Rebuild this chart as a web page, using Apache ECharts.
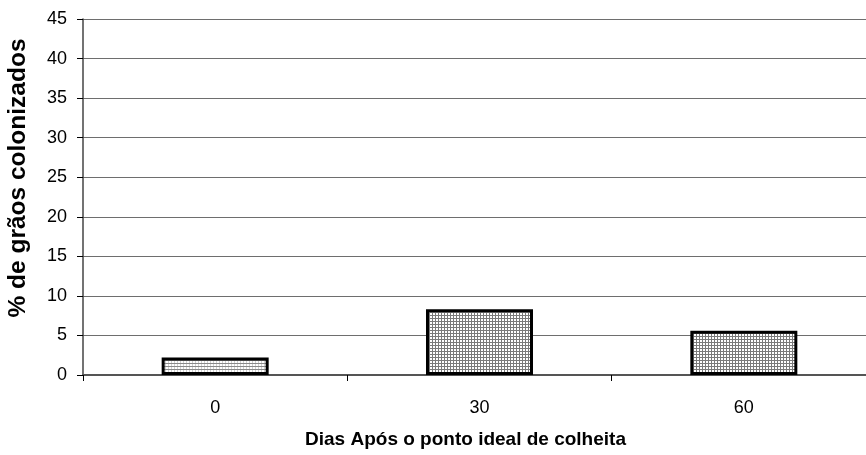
<!DOCTYPE html>
<html>
<head>
<meta charset="utf-8">
<script src="https://cdn.jsdelivr.net/npm/echarts@6/dist/echarts.min.js"></script>
<style>
  html, body { margin: 0; padding: 0; background: #fff; }
  #main { width: 866px; height: 455px; }
</style>
</head>
<body>
<div id="main"></div>
<script>
var categories = ['0', '30', '60'];
var values = [2.2, 8.3, 5.6];
var yTicks = { min: 0, max: 45, step: 5 };

// hatch fills like the old excel patterns
function makePattern(hColor, vColor) {
    var c = document.createElement('canvas');
    c.width = 3;
    c.height = 3;
    var ctx = c.getContext('2d');
    ctx.fillStyle = '#ffffff';
    ctx.fillRect(0, 0, 3, 3);
    ctx.fillStyle = vColor;
    ctx.fillRect(0, 0, 1, 3);
    ctx.fillStyle = hColor;
    ctx.fillRect(0, 0, 3, 1);
    return { image: c, repeat: 'repeat' };
}
var lightFill = makePattern('#8a8a8a', '#d0d0d0');
var gridFill = makePattern('#7a7a7a', '#7a7a7a');

var myChart = echarts.init(document.getElementById('main'));
var option = {
    backgroundColor: '#ffffff',
    animation: false,
    textStyle: { fontFamily: 'Liberation Sans, Arial, sans-serif' },
    grid: {
        left: 83,
        top: 19,
        right: -10, // plot runs past the right edge of the picture
        bottom: 80,
        outerBoundsMode: 'none'
    },
    xAxis: {
        type: 'category',
        data: categories,
        name: 'Dias Após o ponto ideal de colheita',
        nameLocation: 'middle',
        nameGap: 55,
        nameTextStyle: {
            color: '#000',
            fontSize: 19,
            fontWeight: 'bold',
            padding: [0, 28, 0, 0]
        },
        axisLine: { lineStyle: { color: '#555', width: 2 } },
        axisTick: { show: true, length: 6, lineStyle: { color: '#000' } },
        axisLabel: { color: '#000', fontSize: 18, margin: 24 }
    },
    yAxis: {
        type: 'value',
        min: yTicks.min,
        max: yTicks.max,
        interval: yTicks.step,
        name: '% de grãos colonizados',
        nameLocation: 'middle',
        nameGap: 52,
        nameTextStyle: {
            color: '#000',
            fontSize: 24.5,
            fontWeight: 'bold',
            padding: [0, 0, 0, 38]
        },
        axisLine: { show: true, lineStyle: { color: '#444', width: 1.5 } },
        axisTick: { show: true, length: 6, lineStyle: { color: '#000' } },
        axisLabel: { color: '#000', fontSize: 18, margin: 16 },
        splitLine: { show: true, lineStyle: { color: '#6e6e6e', width: 1 } }
    },
    series: [{
        type: 'bar',
        data: values.map(function (v, i) {
            return {
                value: v,
                itemStyle: { color: i === 0 ? lightFill : gridFill }
            };
        }),
        barWidth: 107,
        itemStyle: {
            borderColor: '#000',
            borderWidth: 3
        }
    }]
};
myChart.setOption(option);
</script>
</body>
</html>
